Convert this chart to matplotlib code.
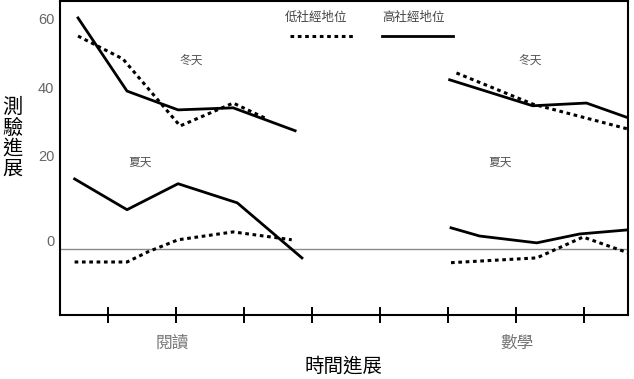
import matplotlib
matplotlib.use("Agg")
import matplotlib.pyplot as plt

plt.rcParams['font.family'] = ['Liberation Sans', 'Noto Sans CJK TC', 'DejaVu Sans']

# 閱讀 (reading) - 冬天 / 夏天
read_win_high_x = [0.56, 1.28, 2.03, 2.84, 3.75]
read_win_high_y = [60.3, 38.9, 33.4, 34.0, 27.3]
read_win_low_x = [0.56, 1.22, 2.06, 2.84, 3.33]
read_win_low_y = [55.0, 48.3, 28.7, 35.4, 30.8]
read_sum_high_x = [0.51, 1.28, 2.03, 2.90, 3.85]
read_sum_high_y = [13.2, 4.2, 11.8, 6.2, -9.9]
read_sum_low_x = [0.51, 1.28, 1.59, 2.03, 2.84, 3.70]
read_sum_low_y = [-11.1, -11.1, -8.1, -4.6, -2.3, -4.6]

# 數學 (math) - 冬天 / 夏天
math_win_high_x = [6.02, 7.24, 8.03, 8.64]
math_win_high_y = [42.2, 34.6, 35.4, 31.1]
math_win_low_x = [6.12, 7.24, 8.64]
math_win_low_y = [44.2, 35.1, 27.8]
math_sum_high_x = [6.04, 6.46, 7.30, 7.93, 8.64]
math_sum_high_y = [-1.1, -3.5, -5.5, -2.9, -1.7]
math_sum_low_x = [6.04, 7.30, 7.98, 8.64]
math_sum_low_y = [-11.3, -9.9, -3.8, -8.4]

baseline = -7.3
ytick_vals = [60, 40, 20, -4.9]
ytick_labels = ['60', '40', '20', '0']
xtick_vals = [1, 2, 3, 4, 5, 6, 7, 8]

fig = plt.figure(figsize=(6.34, 3.79), dpi=100)
ax = fig.add_axes([0.0946, 0.1689, 0.8959, 0.828])

low_style = dict(color='black', lw=2.2, linestyle=(0, (1.2, 1.2)))
high_style = dict(color='black', lw=2.0)

ax.axhline(baseline, color='#8a8a8a', lw=1.0, zorder=1)

for xs, ys in [(read_win_high_x, read_win_high_y), (read_sum_high_x, read_sum_high_y),
               (math_win_high_x, math_win_high_y), (math_sum_high_x, math_sum_high_y)]:
    ax.plot(xs, ys, **high_style)
for xs, ys in [(read_win_low_x, read_win_low_y), (read_sum_low_x, read_sum_low_y),
               (math_win_low_x, math_win_low_y), (math_sum_low_x, math_sum_low_y)]:
    ax.plot(xs, ys, **low_style)

ax.set_xlim(0.295, 8.64)
ax.set_ylim(-26.6, 65.2)

ax.set_yticks(ytick_vals)
ax.set_yticklabels(ytick_labels, color='#666666', fontsize=10.5)
ax.tick_params(axis='y', length=0, pad=4)
ax.set_xticks(xtick_vals)
ax.set_xticklabels([])
ax.tick_params(axis='x', direction='inout', length=11, width=1.4, color='black')

for s in ax.spines.values():
    s.set_linewidth(1.5)
    s.set_color('black')

# season labels
season_color = '#555555'
ax.text(2.23, 47.8, '冬天', fontsize=8.5, color=season_color, ha='center', va='center')
ax.text(7.20, 47.8, '冬天', fontsize=8.5, color=season_color, ha='center', va='center')
ax.text(1.47, 18.0, '夏天', fontsize=8.5, color=season_color, ha='center', va='center')
ax.text(6.76, 18.0, '夏天', fontsize=8.5, color=season_color, ha='center', va='center')

# legend drawn at the top
ax.text(0.451, 0.946, '低社經地位', transform=ax.transAxes, fontsize=9,
        color='#444444', ha='center', va='center')
ax.text(0.623, 0.946, '高社經地位', transform=ax.transAxes, fontsize=9,
        color='#444444', ha='center', va='center')
ax.plot([0.405, 0.516], [0.889, 0.889], transform=ax.transAxes, **low_style)
ax.plot([0.567, 0.692], [0.889, 0.889], transform=ax.transAxes, **high_style)

# subject labels
fig.text(172 / 634, 1 - 343 / 379, '閱讀', fontsize=12, color='#777777', ha='center', va='center')
fig.text(517 / 634, 1 - 343 / 379, '數學', fontsize=12, color='#777777', ha='center', va='center')

fig.text(343 / 634, 1 - 366 / 379, '時間進展', fontsize=14, color='black', ha='center', va='center')
fig.text(12 / 634, 1 - 138 / 379, '\n'.join('測驗進展'), fontsize=14.5, color='black',
         ha='center', va='center', linespacing=1.1)

fig.savefig('out.png', dpi=100)
